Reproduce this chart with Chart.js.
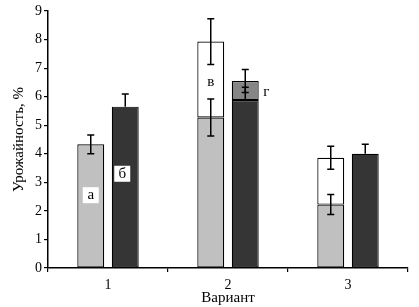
<!DOCTYPE html>
<html>
<head>
<meta charset="utf-8">
<script src="https://cdn.jsdelivr.net/npm/chart.js@4"></script>
<style>
  html, body { margin: 0; padding: 0; background: #fff; }
  #wrap { width: 419px; height: 307px; }
</style>
</head>
<body>
<div id="wrap"><canvas id="chart"></canvas></div>
<script>
const categories = ["1", "2", "3"];

// segment heights (stacked)
const lightVals = [4.33, 5.27, 2.22];
const whiteVals = [null, 2.66, 1.64];
const darkVals = [5.65, 5.88, 4.0];
const grayVals = [null, 0.67, null];

// error half-widths at the top of each segment
const lightErr = [0.33, 0.65, 0.35];
const whiteErr = [null, 0.8, 0.4];
const darkErr = [0.44, 0.45, 0.33];
const grayErr = [null, 0.4, null];

const FONT = "'Liberation Serif', 'DejaVu Serif', serif";

// error bars + letter labels
const errorBars = {
  id: "errorBars",
  afterDatasetsDraw(chart) {
    const ctx = chart.ctx;
    const y = chart.scales.y;
    const errs = [lightErr, whiteErr, darkErr, grayErr];
    const vals = [lightVals, whiteVals, darkVals, grayVals];
    const base = [null, 0, null, 2]; // dataset underneath in the stack
    ctx.save();
    ctx.strokeStyle = "#000";
    ctx.lineWidth = 1.5;
    errs.forEach((err, d) => {
      const meta = chart.getDatasetMeta(d);
      err.forEach((e, i) => {
        if (e == null || vals[d][i] == null) return;
        let top = vals[d][i];
        if (base[d] != null) top += vals[base[d]][i];
        const x = meta.data[i].x;
        const y1 = y.getPixelForValue(top + e);
        // lower half is lost inside the dark bars
        const y2 = d === 2 ? y.getPixelForValue(top) : y.getPixelForValue(top - e);
        ctx.beginPath();
        ctx.moveTo(x, y1); ctx.lineTo(x, y2);
        ctx.moveTo(x - 3.5, y1); ctx.lineTo(x + 3.5, y1);
        if (d !== 2) { ctx.moveTo(x - 3.5, y2); ctx.lineTo(x + 3.5, y2); }
        ctx.stroke();
      });
    });

    // letters
    const letters = [
      { t: "а", d: 0, i: 0, v: 2.55, box: true, dx: 0 },
      { t: "б", d: 2, i: 0, v: 3.3, box: true, dx: -3 },
      { t: "в", d: 1, i: 1, v: 6.5, box: false, dx: 0 },
      { t: "г", d: 3, i: 1, v: 6.15, box: false, dx: 21 }
    ];
    ctx.font = "15px " + FONT;
    ctx.textAlign = "center";
    ctx.textBaseline = "middle";
    letters.forEach(l => {
      const x = chart.getDatasetMeta(l.d).data[l.i].x + l.dx;
      const py = y.getPixelForValue(l.v);
      if (l.box) {
        ctx.fillStyle = "#fff";
        ctx.fillRect(x - 8, py - 8, 16, 16);
      }
      ctx.fillStyle = "#000";
      ctx.fillText(l.t, x, py);
    });
    ctx.restore();
  }
};

new Chart(document.getElementById("chart"), {
  type: "bar",
  data: {
    labels: categories,
    datasets: [
      { data: lightVals, stack: "a", backgroundColor: "#c0c0c0" },
      { data: whiteVals, stack: "a", backgroundColor: "#ffffff" },
      { data: darkVals, stack: "b", backgroundColor: "#353535" },
      { data: grayVals, stack: "b", backgroundColor: "#868686" }
    ].map(ds => Object.assign(ds, {
      borderColor: "#000",
      borderWidth: 1.2,
      borderSkipped: false,
      categoryPercentage: 0.575,
      barPercentage: 0.78
    }))
  },
  options: {
    responsive: true,
    maintainAspectRatio: false,
    animation: false,
    layout: { padding: { left: 0, right: 11, top: 11, bottom: 0 } },
    plugins: { legend: { display: false }, tooltip: { enabled: false } },
    scales: {
      x: {
        stacked: true,
        afterFit: s => { s.height = 39; },
        border: { color: "#000", width: 1.5 },
        grid: { offset: true, drawOnChartArea: false, color: "#000", tickLength: 4, lineWidth: 1.2 },
        ticks: { color: "#000", font: { family: FONT, size: 14 }, padding: 5 },
        title: { display: true, text: "Вариант", color: "#000", font: { family: FONT, size: 15 }, padding: { top: 0, bottom: 0 } }
      },
      y: {
        stacked: true,
        min: 0,
        max: 9,
        afterFit: s => { s.width = 48; },
        border: { color: "#000", width: 1.5 },
        grid: { drawOnChartArea: false, color: "#000", tickLength: 4, lineWidth: 1.2 },
        ticks: { stepSize: 1, color: "#000", font: { family: FONT, size: 14 }, padding: 2 },
        title: { display: true, text: "Урожайность, %", color: "#000", font: { family: FONT, size: 15 }, padding: { top: 10, bottom: 0 } }
      }
    }
  },
  plugins: [errorBars]
});
</script>
</body>
</html>
